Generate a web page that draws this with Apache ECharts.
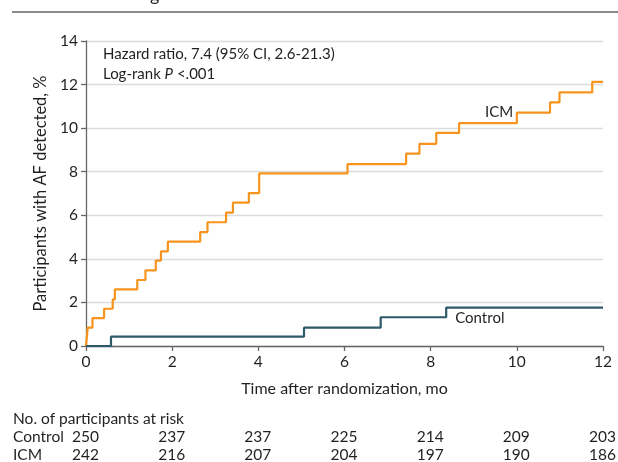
<!DOCTYPE html>
<html><head><meta charset="utf-8">
<script src="https://cdn.jsdelivr.net/npm/echarts@6/dist/echarts.min.js"></script>
<style>html,body{margin:0;padding:0;background:#fff}#c{width:618px;height:462px}</style>
</head><body><div id="c"></div>
<script>
var icmTimes  = [0, 0.04, 0.15, 0.42, 0.62, 0.67, 1.19, 1.38, 1.62, 1.74, 1.90, 2.65, 2.82, 3.25, 3.41, 3.78, 4.02, 6.07, 7.43, 7.74, 8.13, 8.66, 10.0, 10.77, 10.99, 11.75, 12.0];
var icmValues = [0, 0.84, 1.28, 1.71, 2.14, 2.60, 3.03, 3.47, 3.92, 4.34, 4.79, 5.23, 5.68, 6.12, 6.58, 7.02, 7.92, 8.35, 8.83, 9.28, 9.78, 10.23, 10.71, 11.18, 11.64, 12.12, 12.12];
var controlTimes  = [0, 0.58, 5.06, 6.84, 8.36, 12.0];
var controlValues = [0, 0.43, 0.84, 1.32, 1.76, 1.76];
var xTicks = [0, 2, 4, 6, 8, 10, 12];
var riskControl = [250, 237, 237, 225, 214, 209, 203];
var riskICM = [242, 216, 207, 204, 197, 190, 186];

var FONT = 'Lato, "Open Sans", sans-serif';
var TXT = '#231f20';
var ORANGE = '#f7941d';
var TEAL = '#2e5968';

function pairs(t, v){ return t.map(function(x,i){ return [x, v[i]]; }); }

var chart = echarts.init(document.getElementById('c'));
chart.setOption({
  animation: false,
  grid: {left: 86, right: 15, top: 41, bottom: 116},
  xAxis: {
    type: 'value', min: 0, max: 12, interval: 2,
    name: 'Time after randomization, mo', nameLocation: 'middle', nameGap: 35,
    nameTextStyle: {fontFamily: FONT, fontSize: 16, color: TXT},
    axisLine: {show: true, lineStyle: {color: '#666', width: 1.3}},
    axisTick: {show: true, length: 5, lineStyle: {color: '#666', width: 1.3}},
    axisLabel: {fontFamily: FONT, fontSize: 15.5, color: TXT, margin: 8},
    splitLine: {show: false}
  },
  yAxis: {
    type: 'value', min: 0, max: 14, interval: 2,
    name: 'Participants with AF detected, %', nameLocation: 'middle', nameGap: 34,
    nameTextStyle: {fontFamily: FONT, fontSize: 16.5, color: TXT},
    axisLine: {show: true, lineStyle: {color: '#666', width: 1.3}},
    axisTick: {show: true, length: 5, lineStyle: {color: '#666', width: 1.3}},
    axisLabel: {fontFamily: FONT, fontSize: 15.5, color: TXT, margin: 8},
    splitLine: {show: true, lineStyle: {color: '#dcdcdc', width: 1.3}}
  },
  series: [
    {type: 'line', name: 'ICM', step: 'end', data: pairs(icmTimes, icmValues), showSymbol: false,
     lineStyle: {color: ORANGE, width: 2.2}, z: 3},
    {type: 'line', name: 'Control', step: 'end', data: pairs(controlTimes, controlValues), showSymbol: false,
     lineStyle: {color: TEAL, width: 2.2}, z: 4}
  ]
});

function px(x, y){ return chart.convertToPixel({gridIndex: 0}, [x, y]); }
var g = [];
g.push({type: 'line', shape: {x1: 12, y1: 12, x2: 618, y2: 12}, style: {stroke: '#666', lineWidth: 1.5}});
g.push({type: 'text', x: 150, y: 4, style: {text: 'g', fontFamily: FONT, fontSize: 18, fill: TXT, verticalAlign: 'bottom'}});
g.push({type: 'text', x: 103, y: 54, style: {text: 'Hazard ratio, 7.4 (95% CI, 2.6-21.3)', fontFamily: FONT, fontSize: 15, fill: TXT, verticalAlign: 'middle'}});
g.push({type: 'text', x: 103, y: 74, style: {
  text: '{n|Log-rank }{i|P}{n| <.001}', fontFamily: FONT, fontSize: 15, fill: TXT, verticalAlign: 'middle',
  rich: {n: {fontFamily: FONT, fontSize: 15, fill: TXT}, i: {fontFamily: FONT, fontSize: 15, fontStyle: 'italic', fill: TXT}}
}});
var pI = px(9.59, 10.74);
g.push({type: 'text', x: pI[0], y: pI[1], style: {text: 'ICM', fontFamily: FONT, fontSize: 15, fill: TXT, align: 'center', verticalAlign: 'middle'}});
var pC = px(8.57, 1.29);
g.push({type: 'text', x: pC[0], y: pC[1], style: {text: 'Control', fontFamily: FONT, fontSize: 15, fill: TXT, align: 'left', verticalAlign: 'middle'}});
g.push({type: 'text', x: 13, y: 419, style: {text: 'No. of participants at risk', fontFamily: FONT, fontSize: 15.5, fill: TXT, verticalAlign: 'middle'}});
g.push({type: 'text', x: 13, y: 437, style: {text: 'Control', fontFamily: FONT, fontSize: 15.5, fill: TXT, verticalAlign: 'middle'}});
g.push({type: 'text', x: 13, y: 455, style: {text: 'ICM', fontFamily: FONT, fontSize: 15.5, fill: TXT, verticalAlign: 'middle'}});
xTicks.forEach(function(t, i){
  var p = px(t, 0);
  g.push({type: 'text', x: p[0] - 14, y: 437, style: {text: String(riskControl[i]), fontFamily: FONT, fontSize: 15.5, fill: TXT, verticalAlign: 'middle'}});
  g.push({type: 'text', x: p[0] - 14, y: 455, style: {text: String(riskICM[i]), fontFamily: FONT, fontSize: 15.5, fill: TXT, verticalAlign: 'middle'}});
});
chart.setOption({graphic: g});
</script></body></html>
